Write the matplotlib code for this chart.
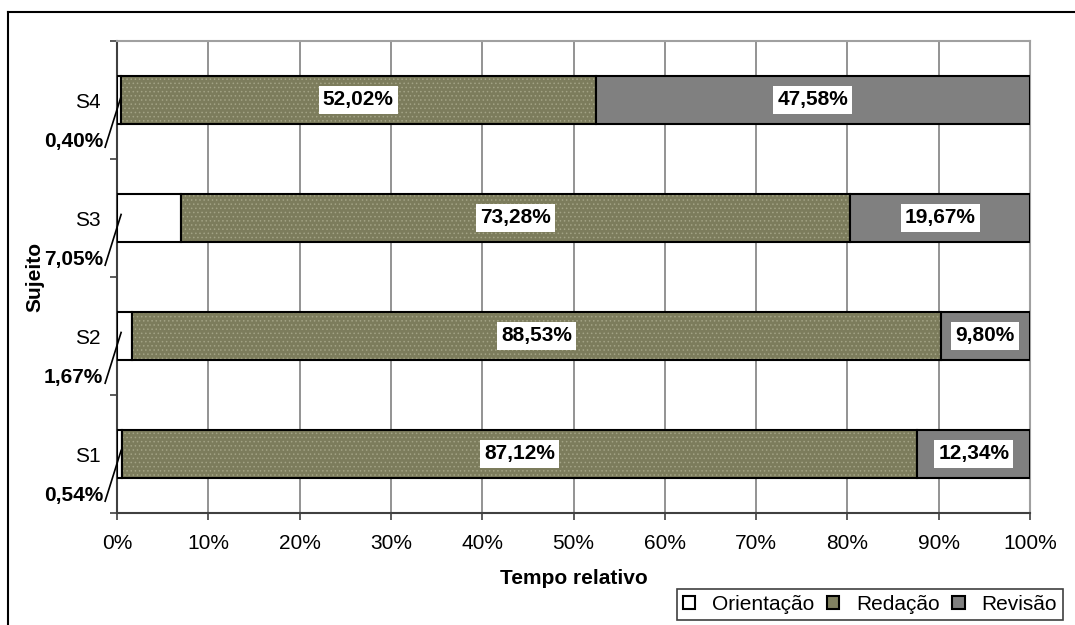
import matplotlib.pyplot as plt
from matplotlib.lines import Line2D
import numpy as np

plt.rcParams['font.family'] = ['Liberation Sans', 'DejaVu Sans']
plt.rcParams['hatch.linewidth'] = 0.6

# relative time per phase (%)
sujeitos = ['S1', 'S2', 'S3', 'S4']
orientacao = [0.54, 1.67, 7.05, 0.40]
redacao = [87.12, 88.53, 73.28, 52.02]
revisao = [12.34, 9.80, 19.67, 47.58]

def fmt(v):
    return f'{v:.2f}%'.replace('.', ',')

fig = plt.figure(figsize=(10.75, 6.25), dpi=100)
ax = fig.add_axes([117 / 1075, 1 - 513 / 625, 913 / 1075, 472 / 625])

y = np.arange(len(sujeitos))
h = 0.4
ori = np.array(orientacao)
red = np.array(redacao)
rev = np.array(revisao)

ax.barh(y, ori, height=h, color='white', edgecolor='black', linewidth=1.5, zorder=3)
# dotted fill first, black outline drawn on top
ax.barh(y, red, left=ori, height=h, color='#7c7c5c', edgecolor='#a3a385',
        hatch='....', linewidth=0, zorder=3)
ax.barh(y, red, left=ori, height=h, fill=False, edgecolor='black', linewidth=1.5, zorder=3)
ax.barh(y, rev, left=ori + red, height=h, color='#808080', edgecolor='black', linewidth=1.5, zorder=3)

box = dict(facecolor='white', edgecolor='none', pad=3)
for i in range(len(sujeitos)):
    ax.text(ori[i] + red[i] / 2, y[i], fmt(red[i]), ha='center', va='center',
            fontsize=15, fontweight='bold', bbox=box, zorder=5)
    ax.text(ori[i] + red[i] + rev[i] / 2, y[i], fmt(rev[i]), ha='center', va='center',
            fontsize=15, fontweight='bold', bbox=box, zorder=5)
    # small first segment gets an outside label with a leader line
    ax.text(-1.5, y[i] - 0.35, fmt(ori[i]), ha='right', va='center',
            fontsize=15, fontweight='bold', zorder=5)
    ax.plot([0.45, -1.3], [y[i] + 0.03, y[i] - 0.4], color='black', lw=1.2,
            clip_on=False, zorder=5)

ax.set_xlim(0, 100)
ax.set_ylim(-0.5, 3.5)
ax.set_xticks(np.arange(0, 101, 10))
ax.set_xticklabels([f'{v}%' for v in range(0, 101, 10)], fontsize=15)
ax.set_yticks(y)
ax.set_yticklabels(sujeitos, fontsize=15)
ax.set_yticks(np.arange(-0.5, 3.6, 1), minor=True)
ax.tick_params(axis='y', which='major', length=0, pad=12)
ax.tick_params(axis='y', which='minor', length=5, width=1.2, color='#404040', direction='out')
ax.tick_params(axis='x', length=5, width=1.2, color='#404040', pad=10)

ax.grid(axis='x', color='#808080', lw=1.2, zorder=0)
for s in ['left', 'bottom']:
    ax.spines[s].set_color('#404040')
    ax.spines[s].set_linewidth(1.5)
for s in ['top', 'right']:
    ax.spines[s].set_color('#a0a0a0')
    ax.spines[s].set_linewidth(1.5)

ax.set_xlabel('Tempo relativo', fontsize=15, fontweight='bold', labelpad=12)
ax.set_ylabel('Sujeito', fontsize=15, fontweight='bold', va='center')
ax.yaxis.set_label_coords((35 - 117) / 913, 0.5)

handles = [plt.Rectangle((0, 0), 1, 1, facecolor=c, edgecolor='black', lw=1.5)
           for c in ['white', '#808060', '#808080']]
leg = fig.legend(handles, ['Orientação', 'Redação', 'Revisão'], ncol=3,
                 loc='lower right', bbox_to_anchor=(1063 / 1075, 5 / 625),
                 fontsize=15, frameon=True, fancybox=False, framealpha=1,
                 edgecolor='#404040', borderaxespad=0, handlelength=0.6,
                 handleheight=0.6, handletextpad=0.8, columnspacing=0.6,
                 borderpad=0.3)
leg.get_frame().set_linewidth(1.2)

# outer chart frame
fig.add_artist(Line2D([8 / 1075, 1], [1 - 12 / 625] * 2, color='black', lw=1.5))
fig.add_artist(Line2D([8 / 1075] * 2, [0, 1 - 12 / 625], color='black', lw=1.5))

fig.savefig('out.png', dpi=100)
